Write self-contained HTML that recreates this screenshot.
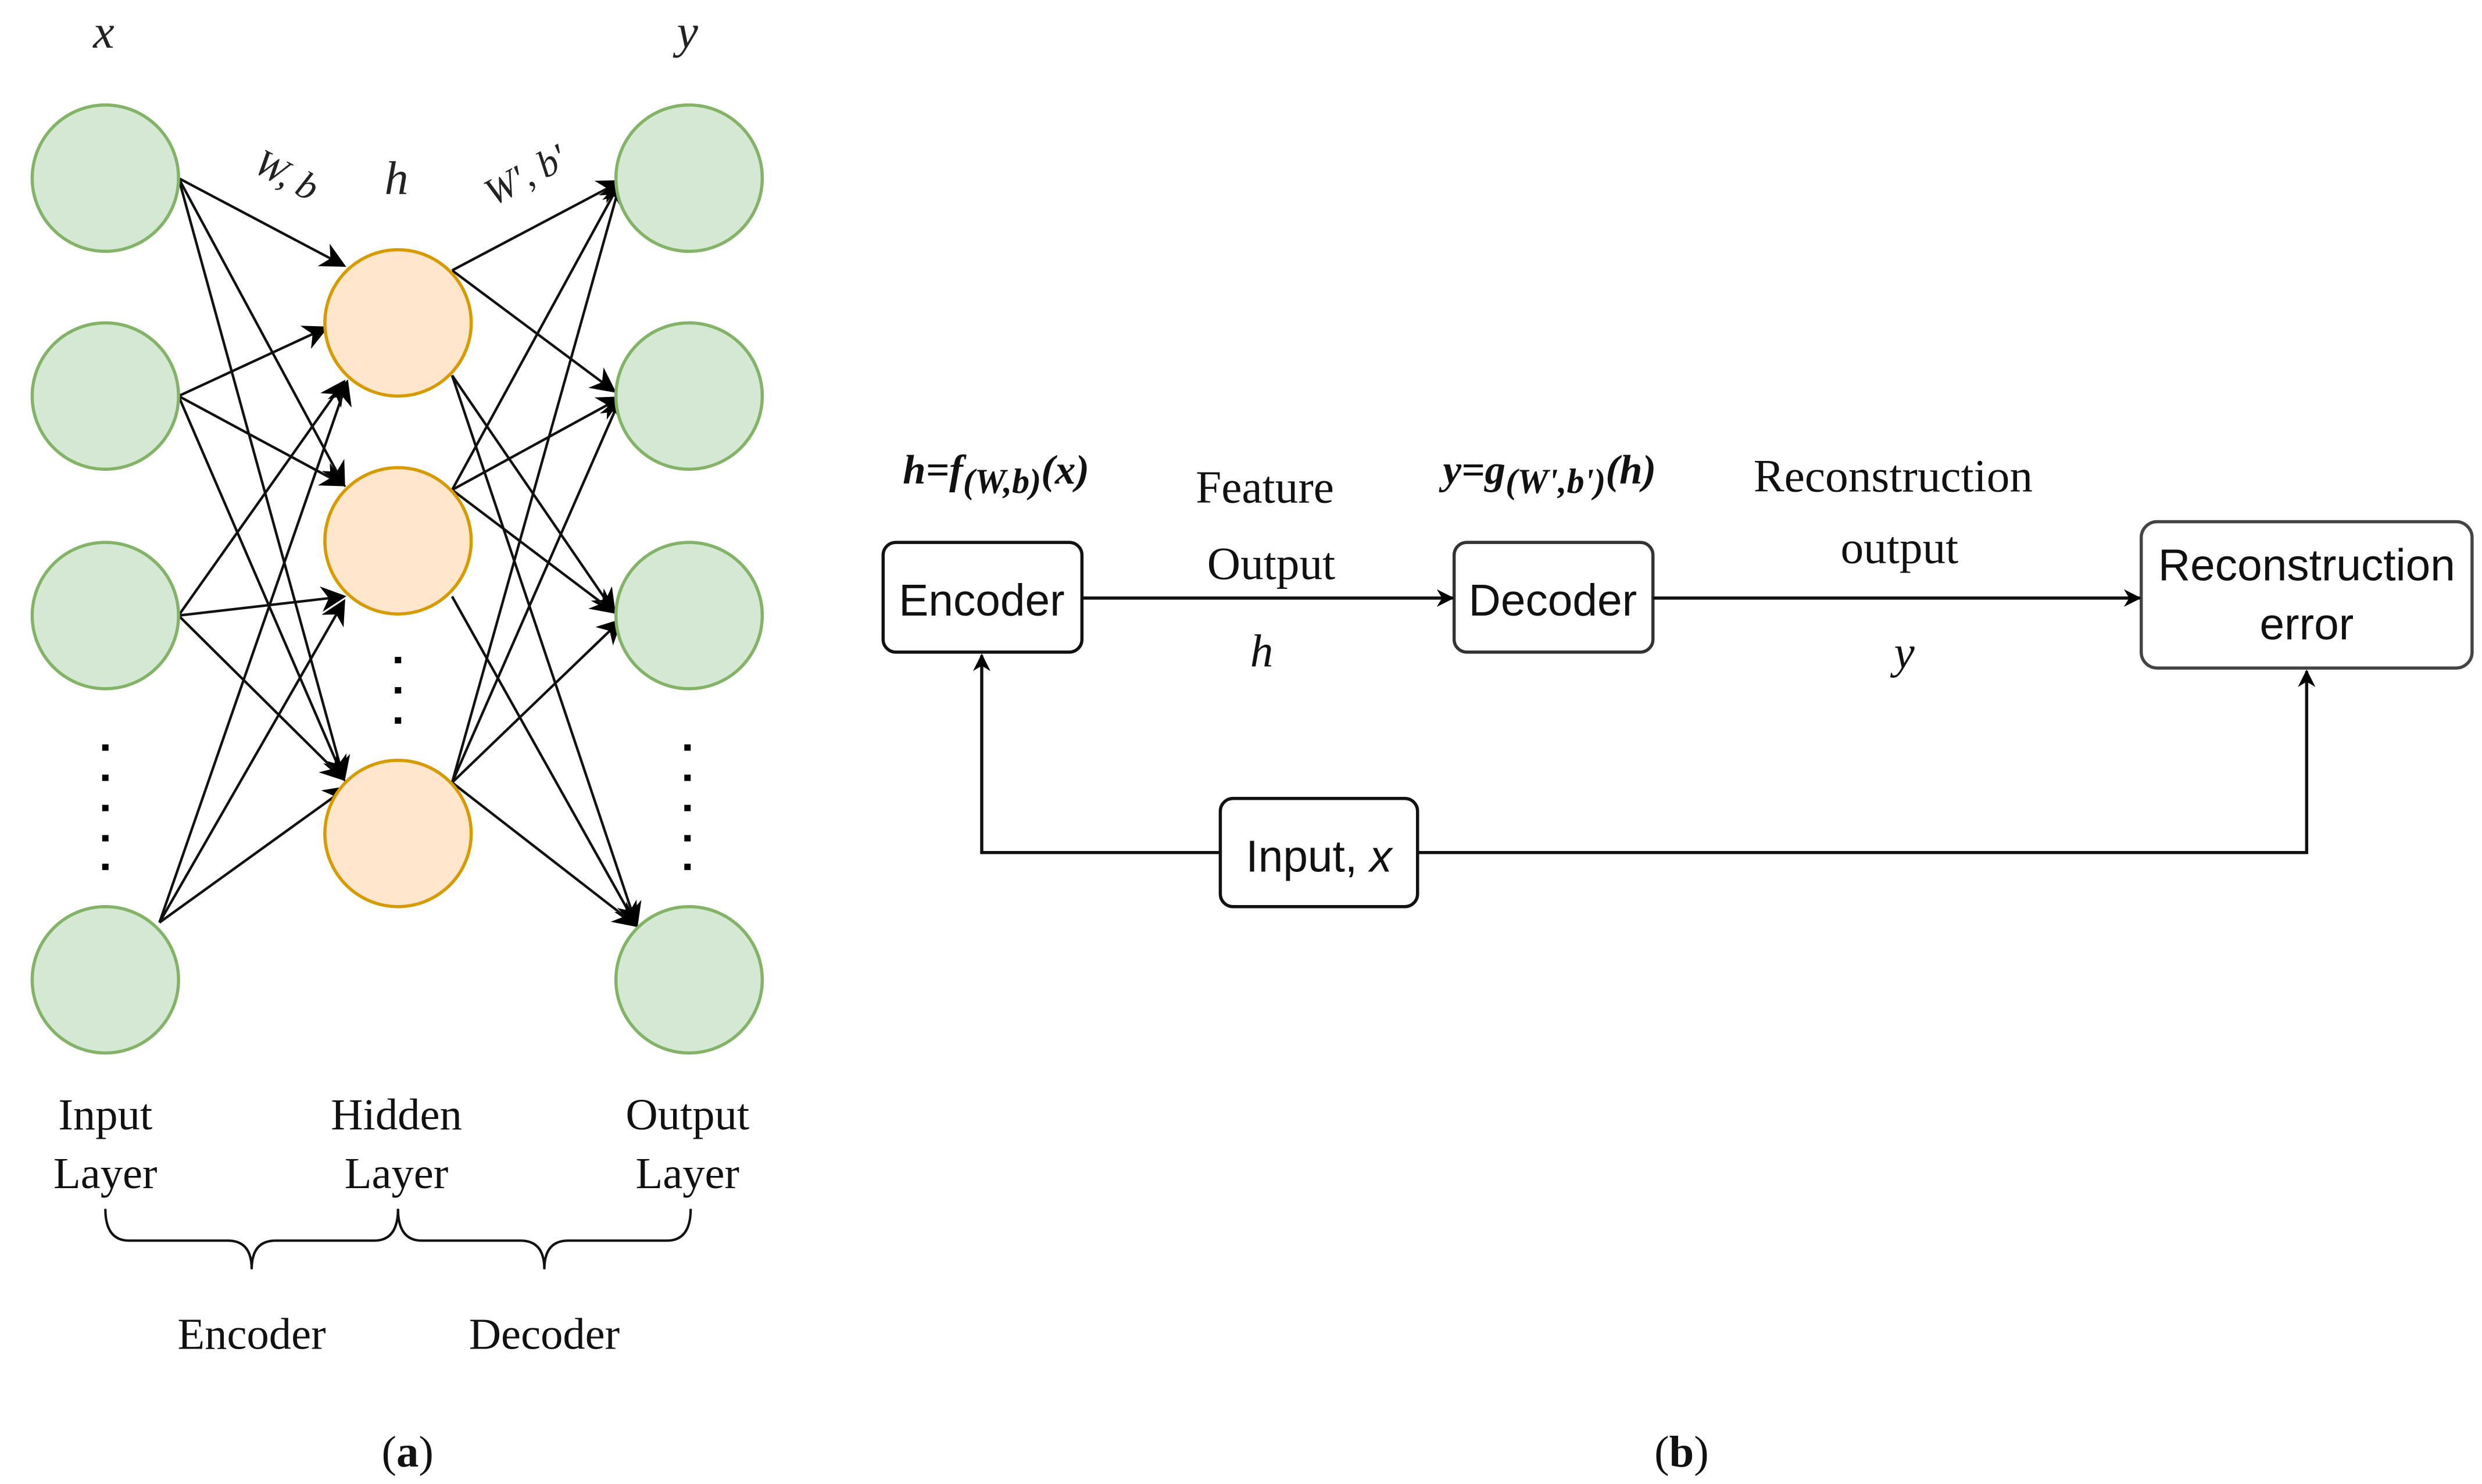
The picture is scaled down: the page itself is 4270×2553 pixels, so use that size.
<!DOCTYPE html>
<html><head><meta charset="utf-8"><style>html,body{margin:0;padding:0;background:#fff}svg{display:block}</style></head>
<body>
<svg width="4270" height="2553" viewBox="0 0 1560 933" xmlns="http://www.w3.org/2000/svg">
<defs>
<marker id="a" viewBox="0 0 10 10" refX="9" refY="5" markerWidth="11" markerHeight="11" markerUnits="userSpaceOnUse" orient="auto"><path d="M0,0 L10,5 L0,10 L3,5 z" fill="#000"/></marker>
<marker id="b" viewBox="0 0 10 10" refX="9" refY="5" markerWidth="16" markerHeight="16" markerUnits="userSpaceOnUse" orient="auto"><path d="M0,0 L10,5 L0,10 L3,5 z" fill="#000"/></marker>
</defs>
<g stroke="#111" stroke-width="1.6" marker-end="url(#b)">
<line x1="112" y1="112" x2="216" y2="167"/><line x1="112" y1="112" x2="216" y2="305"/><line x1="112" y1="112" x2="216" y2="490"/>
<line x1="112" y1="249" x2="205" y2="206"/><line x1="112" y1="249" x2="216" y2="305"/><line x1="112" y1="249" x2="216" y2="490"/>
<line x1="112" y1="387" x2="216" y2="240"/><line x1="112" y1="387" x2="216" y2="375"/><line x1="112" y1="387" x2="216" y2="490"/>
<line x1="100" y1="580" x2="218" y2="240"/><line x1="100" y1="580" x2="216" y2="378"/><line x1="100" y1="580" x2="218" y2="495"/>
<line x1="284" y1="170" x2="390" y2="114"/><line x1="284" y1="170" x2="386" y2="246"/><line x1="284" y1="236" x2="386" y2="385"/><line x1="284" y1="236" x2="400" y2="582"/>
<line x1="284" y1="308" x2="390" y2="114"/><line x1="284" y1="308" x2="390" y2="250"/><line x1="284" y1="308" x2="386" y2="385"/><line x1="284" y1="375" x2="400" y2="582"/>
<line x1="284" y1="492" x2="390" y2="114"/><line x1="284" y1="492" x2="390" y2="250"/><line x1="284" y1="492" x2="390" y2="390"/><line x1="284" y1="492" x2="400" y2="582"/>
</g>
<g fill="#d5e8d4" stroke="#82b366" stroke-width="2">
<ellipse cx="66" cy="112" rx="46" ry="46"/><ellipse cx="66" cy="249" rx="46" ry="46"/><ellipse cx="66" cy="387" rx="46" ry="46"/><ellipse cx="66" cy="616" rx="46" ry="46"/>
<ellipse cx="433" cy="112" rx="46" ry="46"/><ellipse cx="433" cy="249" rx="46" ry="46"/><ellipse cx="433" cy="387" rx="46" ry="46"/><ellipse cx="433" cy="616" rx="46" ry="46"/>
</g>
<g fill="#ffe6cc" stroke="#d79b00" stroke-width="2">
<ellipse cx="250" cy="203" rx="46" ry="46"/><ellipse cx="250" cy="340" rx="46" ry="46"/><ellipse cx="250" cy="524" rx="46" ry="46"/>
</g>
<g fill="#000">
<rect x="64" y="468" width="4" height="4"/><rect x="64" y="487" width="4" height="4"/><rect x="64" y="506" width="4" height="4"/><rect x="64" y="525" width="4" height="4"/><rect x="64" y="543" width="4" height="4"/>
<rect x="430" y="468" width="4" height="4"/><rect x="430" y="487" width="4" height="4"/><rect x="430" y="506" width="4" height="4"/><rect x="430" y="525" width="4" height="4"/><rect x="430" y="543" width="4" height="4"/>
<rect x="248" y="413" width="4" height="4"/><rect x="248" y="432" width="4" height="4"/><rect x="248" y="451" width="4" height="4"/>
</g>
<g font-family="Liberation Serif, serif" font-size="30" font-style="italic" text-anchor="middle" fill="#222">
<text x="65" y="30">x</text><text x="432" y="30">y</text><text x="249" y="122">h</text>
<text x="180" y="118" font-size="24" transform="rotate(28 180 110)">W, b</text>
<text x="330" y="118" font-size="24" transform="rotate(-28 330 110)">W', b'</text>
</g>
<g font-family="Liberation Serif, serif" font-size="28" text-anchor="middle" fill="#111">
<text x="66" y="710">Input</text><text x="66" y="747">Layer</text>
<text x="249" y="710">Hidden</text><text x="249" y="747">Layer</text>
<text x="432" y="710">Output</text><text x="432" y="747">Layer</text>
<text x="158" y="848">Encoder</text><text x="342" y="848">Decoder</text>
<text x="256" y="922">(<tspan font-weight="bold">a</tspan>)</text><text x="1057" y="922">(<tspan font-weight="bold">b</tspan>)</text>
</g>
<g fill="none" stroke="#111" stroke-width="1.5">
<path d="M66,760 q0,20 15,20 h62 q15,0 15,18 q0,-18 15,-18 h62 q15,0 15,-20"/>
<path d="M250,760 q0,20 15,20 h62 q15,0 15,18 q0,-18 15,-18 h62 q15,0 15,-20"/>
</g>
<g fill="#fff" stroke="#111" stroke-width="2">
<rect x="555" y="341" width="125" height="69" rx="8"/>
<rect x="914" y="341" width="125" height="69" rx="8" stroke="#333"/>
<rect x="1346" y="328" width="208" height="92" rx="10" stroke="#444"/>
<rect x="767" y="502" width="124" height="68" rx="8"/>
</g>
<g stroke="#111" stroke-width="2" fill="none">
<line x1="680" y1="376" x2="913" y2="376" marker-end="url(#a)"/>
<line x1="1039" y1="376" x2="1345" y2="376" marker-end="url(#a)"/>
<polyline points="767,536 617,536 617,412" marker-end="url(#a)"/>
<polyline points="891,536 1450,536 1450,422" marker-end="url(#a)"/>
</g>
<g font-family="Liberation Sans, sans-serif" font-size="28" text-anchor="middle" fill="#111">
<text x="617" y="387">Encoder</text><text x="976" y="387">Decoder</text>
<text x="1450" y="365">Reconstruction</text><text x="1450" y="402">error</text>
<text x="829" y="548">Input, <tspan font-style="italic">x</tspan></text>
</g>
<g font-family="Liberation Serif, serif" font-size="29" text-anchor="middle" fill="#111">
<text x="795" y="316">Feature</text><text x="799" y="364">Output</text>
<text x="793" y="419" font-style="italic">h</text>
<text x="1190" y="309">Reconstruction</text><text x="1194" y="354">output</text>
<text x="1197" y="420" font-style="italic">y</text>
<text x="626" y="304" font-style="italic" font-weight="bold" font-size="26">h=f<tspan font-size="22" dy="6">(W,b)</tspan><tspan dy="-6">(x)</tspan></text>
<text x="974" y="304" font-style="italic" font-weight="bold" font-size="26">y=g<tspan font-size="22" dy="6">(W',b')</tspan><tspan dy="-6">(h)</tspan></text>
</g>
</svg>
</body></html>
